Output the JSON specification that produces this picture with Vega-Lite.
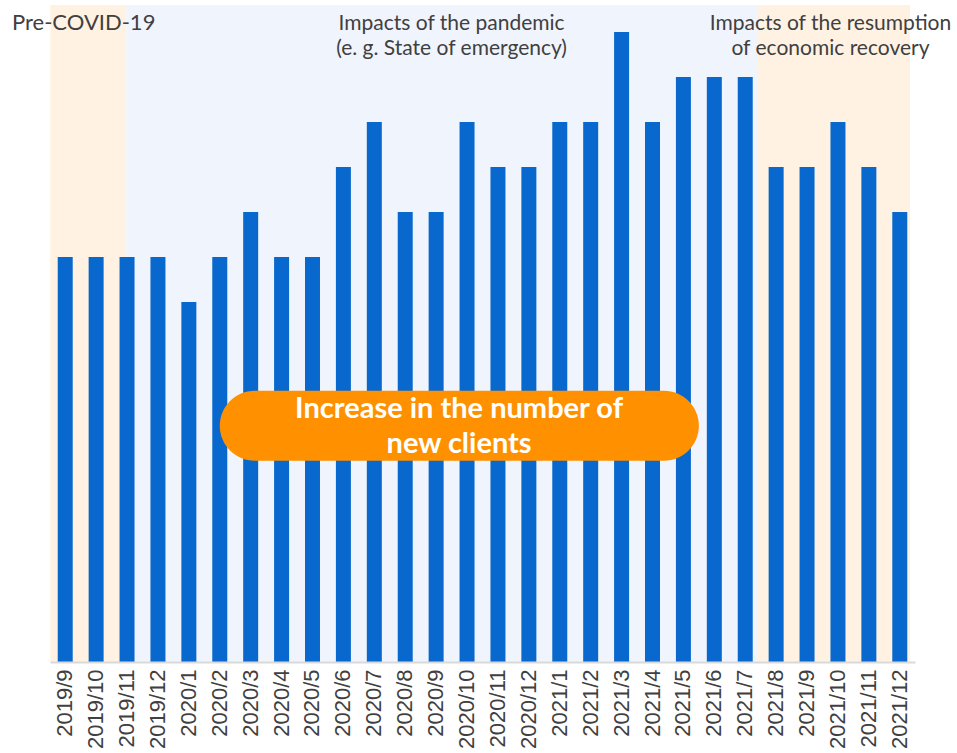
{
  "$schema": "https://vega.github.io/schema/vega-lite/v6.json",
  "width": 865,
  "height": 657,
  "autosize": {"type": "none"},
  "padding": {"left": 50, "top": 5, "right": 42, "bottom": 91},
  "background": "white",
  "config": {
    "view": {"stroke": null},
    "font": "Lato",
    "axisX": {
      "labelAngle": -90,
      "labelFont": "Liberation Sans",
      "labelFontSize": 22,
      "labelColor": "#404040",
      "labelPadding": 7,
      "ticks": false,
      "domainColor": "#d9d9d9",
      "domainWidth": 2,
      "grid": false,
      "title": null
    }
  },
  "datasets": {
    "bars": [
      {"month": "2019/9", "value": 9},
      {"month": "2019/10", "value": 9},
      {"month": "2019/11", "value": 9},
      {"month": "2019/12", "value": 9},
      {"month": "2020/1", "value": 8},
      {"month": "2020/2", "value": 9},
      {"month": "2020/3", "value": 10},
      {"month": "2020/4", "value": 9},
      {"month": "2020/5", "value": 9},
      {"month": "2020/6", "value": 11},
      {"month": "2020/7", "value": 12},
      {"month": "2020/8", "value": 10},
      {"month": "2020/9", "value": 10},
      {"month": "2020/10", "value": 12},
      {"month": "2020/11", "value": 11},
      {"month": "2020/12", "value": 11},
      {"month": "2021/1", "value": 12},
      {"month": "2021/2", "value": 12},
      {"month": "2021/3", "value": 14},
      {"month": "2021/4", "value": 12},
      {"month": "2021/5", "value": 13},
      {"month": "2021/6", "value": 13},
      {"month": "2021/7", "value": 13},
      {"month": "2021/8", "value": 11},
      {"month": "2021/9", "value": 11},
      {"month": "2021/10", "value": 12},
      {"month": "2021/11", "value": 11},
      {"month": "2021/12", "value": 10}
    ]
  },
  "layer": [
    {
      "data": {"values": [{"month": "2019/9", "to": "2019/11"}]},
      "mark": {"type": "rect", "color": "#fff2e3"},
      "encoding": {
        "x": {
          "field": "month", "type": "ordinal", "bandPosition": -0.5, "title": null,
          "scale": {
            "domain": ["2019/9","2019/10","2019/11","2019/12","2020/1","2020/2","2020/3","2020/4","2020/5","2020/6","2020/7","2020/8","2020/9","2020/10","2020/11","2020/12","2021/1","2021/2","2021/3","2021/4","2021/5","2021/6","2021/7","2021/8","2021/9","2021/10","2021/11","2021/12"],
            "paddingInner": 0.515,
            "paddingOuter": 0.25
          }
        },
        "x2": {"field": "to", "bandPosition": 0.45},
        "y": {"datum": 14.6, "type": "quantitative", "axis": null, "scale": {"domain": [0, 14.6], "nice": false}},
        "y2": {"datum": 0}
      }
    },
    {
      "data": {"values": [{"month": "2019/11", "to": "2021/7"}]},
      "mark": {"type": "rect", "color": "#f0f4fc"},
      "encoding": {
        "x": {"field": "month", "type": "ordinal", "bandPosition": 0.45, "title": null},
        "x2": {"field": "to", "bandPosition": 1.35},
        "y": {"datum": 14.6, "type": "quantitative", "axis": null},
        "y2": {"datum": 0}
      }
    },
    {
      "data": {"values": [{"month": "2021/7", "to": "2021/12"}]},
      "mark": {"type": "rect", "color": "#fff2e3"},
      "encoding": {
        "x": {"field": "month", "type": "ordinal", "bandPosition": 1.35, "title": null},
        "x2": {"field": "to", "bandPosition": 1.18},
        "y": {"datum": 14.6, "type": "quantitative", "axis": null},
        "y2": {"datum": 0}
      }
    },
    {
      "data": {"name": "bars"},
      "mark": {"type": "bar", "color": "#0868cd"},
      "encoding": {
        "x": {"field": "month", "type": "ordinal", "title": null},
        "y": {"field": "value", "type": "quantitative", "axis": null}
      }
    },
    {
      "data": {"values": [{"month": "2020/2", "to": "2021/5", "top": 6.03, "bottom": 4.47}]},
      "mark": {"type": "rect", "color": "#ff9100", "cornerRadius": 35},
      "encoding": {
        "x": {"field": "month", "type": "ordinal", "bandPosition": 0.5, "title": null},
        "x2": {"field": "to", "bandPosition": 1.53},
        "y": {"field": "top", "type": "quantitative", "axis": null},
        "y2": {"field": "bottom"}
      }
    },
    {
      "data": {"values": [{"month": "2020/9", "level": 5.416, "label": "Increase in the number of\nnew clients"}]},
      "mark": {"type": "text", "color": "white", "font": "Lato", "fontWeight": "bold", "fontSize": 29, "lineHeight": 35, "align": "center", "baseline": "alphabetic", "lineBreak": "\n"},
      "encoding": {
        "x": {"field": "month", "type": "ordinal", "bandPosition": 2.03, "title": null},
        "y": {"field": "level", "type": "quantitative", "axis": null},
        "text": {"field": "label"}
      }
    },
    {
      "data": {"values": [{"month": "2019/9", "level": 14.04, "label": "Pre-COVID-19"}]},
      "mark": {"type": "text", "color": "#404040", "font": "Lato", "fontSize": 22, "align": "left", "baseline": "alphabetic"},
      "encoding": {
        "x": {"field": "month", "type": "ordinal", "bandPosition": -3.05, "title": null},
        "y": {"field": "level", "type": "quantitative", "axis": null},
        "text": {"field": "label"}
      }
    },
    {
      "data": {"values": [{"month": "2020/9", "level": 14.04, "label": "Impacts of the pandemic\n(e. g. State of emergency)"}]},
      "mark": {"type": "text", "color": "#404040", "font": "Lato", "fontSize": 21, "lineHeight": 25, "align": "center", "baseline": "alphabetic", "lineBreak": "\n"},
      "encoding": {
        "x": {"field": "month", "type": "ordinal", "bandPosition": 1.53, "title": null},
        "y": {"field": "level", "type": "quantitative", "axis": null},
        "text": {"field": "label"}
      }
    },
    {
      "data": {"values": [{"month": "2021/10", "level": 14.04, "label": "Impacts of the resumption\nof economic recovery"}]},
      "mark": {"type": "text", "color": "#404040", "font": "Lato", "fontSize": 21, "lineHeight": 25, "align": "center", "baseline": "alphabetic", "lineBreak": "\n"},
      "encoding": {
        "x": {"field": "month", "type": "ordinal", "bandPosition": 0, "title": null},
        "y": {"field": "level", "type": "quantitative", "axis": null},
        "text": {"field": "label"}
      }
    }
  ]
}
